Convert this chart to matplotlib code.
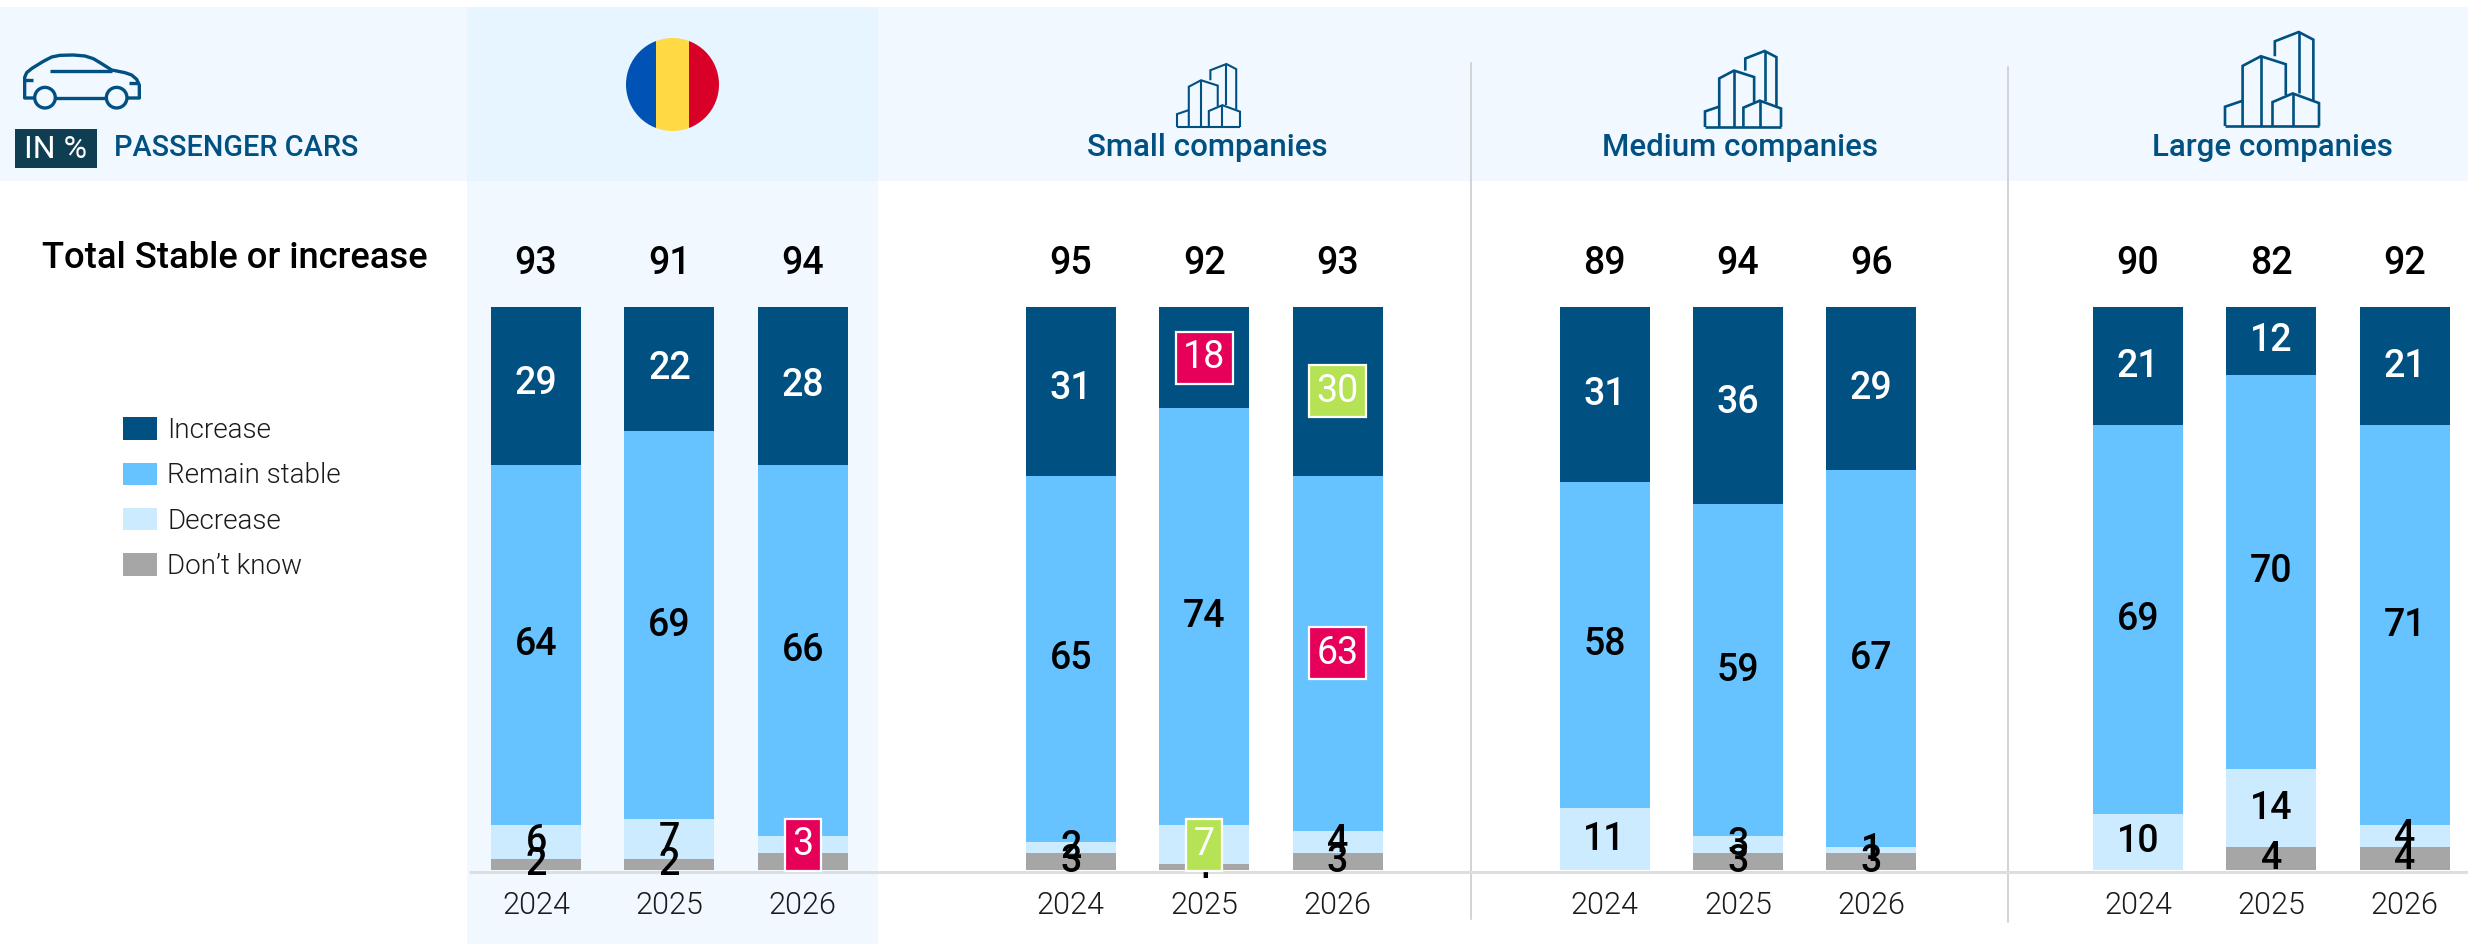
import numpy as np
import matplotlib
matplotlib.use("Agg")
import matplotlib.pyplot as plt
from matplotlib.patches import Rectangle, Circle, Patch

# ---- data ----
years = ["2024", "2025", "2026"]
series_names = ["Increase", "Remain stable", "Decrease", "Don\u2019t know"]
group_names = ["Romania", "Small companies", "Medium companies", "Large companies"]

romania_increase = [29, 22, 28]
romania_stable = [64, 69, 66]
romania_decrease = [6, 7, 3]
romania_dontknow = [2, 2, 3]
romania_total = [93, 91, 94]

small_increase = [31, 18, 30]
small_stable = [65, 74, 63]
small_decrease = [2, 7, 4]
small_dontknow = [3, 1, 3]
small_total = [95, 92, 93]

medium_increase = [31, 36, 29]
medium_stable = [58, 59, 67]
medium_decrease = [11, 3, 1]
medium_dontknow = [0, 3, 3]
medium_total = [89, 94, 96]

large_increase = [21, 12, 21]
large_stable = [69, 70, 71]
large_decrease = [10, 14, 4]
large_dontknow = [0, 4, 4]
large_total = [90, 82, 92]

# highlighted cells: (group, year index, series index)
highlight_red = [(0, 2, 2), (1, 1, 0), (1, 2, 1)]
highlight_green = [(1, 2, 0), (1, 1, 2)]

groups = [
    (romania_increase, romania_stable, romania_decrease, romania_dontknow, romania_total),
    (small_increase, small_stable, small_decrease, small_dontknow, small_total),
    (medium_increase, medium_stable, medium_decrease, medium_dontknow, medium_total),
    (large_increase, large_stable, large_decrease, large_dontknow, large_total),
]

# ---- style ----
W, H = 2468, 944
DARK = "#005082"
MID = "#66C3FF"
LIGHT = "#CCEBFF"
GRAY = "#A6A6A6"
RED = "#E6005A"
GREEN = "#B6E355"
colors = [DARK, MID, LIGHT, GRAY]
HEAD = "#F1F8FF"
HEAD2 = "#E6F5FF"
FONT = "Roboto"
plt.rcParams["font.family"] = [FONT, "DejaVu Sans"]

fig = plt.figure(figsize=(W / 100, H / 100), dpi=100, facecolor="white")

# background layer in pixel coordinates
bg = fig.add_axes([0, 0, 1, 1], zorder=0)
bg.set_xlim(0, W)
bg.set_ylim(H, 0)
bg.axis("off")

bg.add_patch(Rectangle((0, 7), W, 174, fc=HEAD, ec="none"))
bg.add_patch(Rectangle((467, 7), 411, 174, fc=HEAD2, ec="none"))
bg.add_patch(Rectangle((467, 181), 411, 763, fc=HEAD, ec="none"))
bg.plot([1471, 1471], [63, 919], color="#C8C8C8", lw=1.1)
bg.plot([2008, 2008], [67, 922], color="#C8C8C8", lw=1.1)
bg.plot([469, W], [871.5, 871.5], color="#DEDEDE", lw=2.2, solid_capstyle="butt")

# flag
clip = Circle((672.5, 84.5), 46.5, transform=bg.transData, fc="none", ec="none")
bg.add_patch(clip)
for x0, x1, c in [(626, 656, "#0052B4"), (656, 689, "#FFDA44"), (689, 719, "#D80027")]:
    r = Rectangle((x0, 38), x1 - x0, 93, fc=c, ec="none")
    bg.add_patch(r)
    r.set_clip_path(clip)

# car icon (from a 3x sketch offset by 10,40)
def car(pts):
    p = np.array(pts, float)
    bg.plot(p[:, 0] / 3 + 10, p[:, 1] / 3 + 40, color=DARK, lw=2.4,
            solid_joinstyle="round", solid_capstyle="butt")

car([(75, 174), (44, 174), (44, 112), (50, 98), (66, 85), (100, 64), (125, 51), (150, 46),
     (190, 45), (225, 48), (250, 56), (275, 71), (305, 90), (345, 98), (365, 105), (380, 118),
     (388, 135), (388, 174), (352, 174)])
car([(136, 173), (290, 173)])
car([(120, 92), (305, 92)])
car([(44, 121), (68, 121)])
car([(358, 130), (388, 130)])
for cx in (105, 320):
    bg.add_patch(Circle((cx / 3 + 10, 173 / 3 + 40), 10.3, fc="none", ec=DARK, lw=2.4))

# building icons
def building(x0, y_bottom, size):
    s = size / 283.0
    lines = [
        [(0, 0), (283, 0)],
        [(0, 0), (0, 58), (53, 76)],
        [(53, 0), (53, 181), (108, 210), (183, 186), (183, 93)],
        [(108, 210), (108, 0)],
        [(150, 210), (150, 255), (222, 283), (266, 260), (266, 78)],
        [(222, 283), (222, 98)],
        [(143, 0), (143, 72), (204, 98), (283, 69), (283, 0)],
        [(204, 98), (204, 0)],
    ]
    for ln in lines:
        p = np.array(ln, float)
        bg.plot(x0 + p[:, 0] * s, y_bottom - p[:, 1] * s, color=DARK, lw=1.9 if size > 70 else 1.5,
                solid_joinstyle="miter", solid_capstyle="butt")

building(1177, 127, 63)
building(1705, 127, 76)
building(2225, 126, 94)

# header texts
bg.add_patch(Rectangle((15, 129), 82, 39, fc="#0F3D52", ec="none"))
bg.text(56, 149, "IN %", color="white", fontsize=23, ha="center", va="center")
bg.text(114, 148, "PASSENGER CARS", color=DARK, fontsize=20.8, ha="left", va="center", fontweight=500)
for cx, name in zip((1207, 1740, 2272), group_names[1:]):
    bg.text(cx, 148, name, color=DARK, fontsize=22.5, ha="center", va="center", fontweight=500)
bg.text(42, 259, "Total Stable or increase", color="black", fontsize=26.2, ha="left", va="center",
        fontweight=500)

# legend
handles = [Patch(fc=c, ec="none") for c in colors]
bg.legend(handles, series_names, loc="upper left", bbox_to_anchor=(112, 406),
          bbox_transform=bg.transData, frameon=False, labelspacing=0.66,
          handlelength=1.22, handleheight=0.86, handletextpad=0.36, borderpad=0.4,
          borderaxespad=0, labelcolor="#1a1a1a", prop=dict(size=20, weight=300, family=FONT))

# bars
first_centres = [536, 1070.8, 1604.5, 2138]
STEP = 133.4
BAR_W = 90 / STEP
Y0, Y100 = 870, 307
FS = 27

for g, (vals, c0) in enumerate(zip(groups, first_centres)):
    left = c0 - STEP / 2
    width = min(3 * STEP, W - left)
    ax = fig.add_axes([left / W, 1 - Y0 / H, width / W, (Y0 - Y100) / H], zorder=2)
    ax.patch.set_alpha(0)
    ax.set_xlim(-0.5, -0.5 + width / STEP)
    ax.set_ylim(0, 100)
    for sp in ax.spines.values():
        sp.set_visible(False)
    ax.set_yticks([])
    ax.set_xticks(range(3))
    ax.set_xticklabels(years, fontsize=22, color="#1a1a1a", fontweight=300)
    ax.tick_params(axis="x", length=0, pad=15)

    # stacked from the axis upwards; rounded sums above 100 are cut off by the axes, as in the reference
    bottom = np.zeros(3)
    for s in (3, 2, 1, 0):
        v = np.array(vals[s], float)
        ax.bar(range(3), v, width=BAR_W, bottom=bottom, color=colors[s], linewidth=0, zorder=2)
        for y in range(3):
            if vals[s][y] == 0:
                continue
            mid = bottom[y] + v[y] / 2
            if (g, y, s) in highlight_red or (g, y, s) in highlight_green:
                fc = RED if (g, y, s) in highlight_red else GREEN
                ax.text(y, mid, str(vals[s][y]), color="white", fontsize=FS, ha="center", va="center", zorder=6,
                        bbox=dict(boxstyle="square,pad=0.2", fc=fc, ec="white", lw=1.6))
            else:
                ax.text(y, mid, str(vals[s][y]), color="white" if s == 0 else "black", fontsize=FS,
                        ha="center", va="center", zorder=4, fontweight=500, clip_on=False)
        bottom = bottom + v
    for y, t in enumerate(vals[4]):
        ax.text(y, 100 + (Y100 - 263) / (Y0 - Y100) * 100, str(t), color="black", fontsize=FS,
                ha="center", va="center", fontweight=500, clip_on=False)

fig.savefig("out.png", dpi=100, facecolor="white")
